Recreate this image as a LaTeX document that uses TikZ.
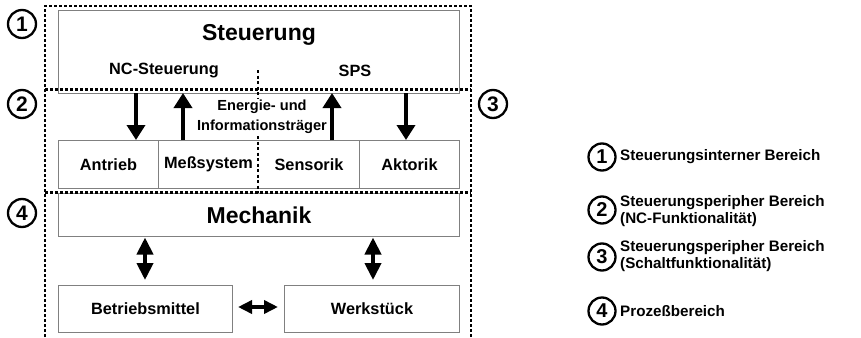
\documentclass[tikz,border=0pt]{standalone}
\usepackage{fontspec}
\setmainfont{Liberation Sans}
\usetikzlibrary{arrows.meta}
\begin{document}
\begin{tikzpicture}[x=1pt,y=-1pt,
  box/.style={draw=black!50, line width=1pt, fill=white},
  region/.style={line width=2.2pt, dash pattern=on 3pt off 2pt},
  sep/.style={line width=2pt, dash pattern=on 3pt off 2.5pt},
  flow/.style={line width=3.6pt, -{Triangle[width=18pt,length=15pt]}},
  both/.style={line width=4pt, {Triangle[width=16pt,length=17pt]}-{Triangle[width=16pt,length=17pt]}},
  bothh/.style={line width=3.6pt, {Triangle[width=13pt,length=14pt]}-{Triangle[width=13pt,length=14pt]}},
  lbl/.style={font=\bfseries\fontsize{16.3}{18}\selectfont, inner sep=0pt},
  big/.style={font=\bfseries\fontsize{23}{26}\selectfont, inner sep=0pt},
  num/.style={circle, draw, line width=2.3pt, minimum size=28pt, inner sep=0pt,
              font=\bfseries\fontsize{21}{21}\selectfont},
  legend/.style={font=\bfseries\fontsize{15.2}{16.5}\selectfont, inner sep=0pt, anchor=west, align=left}]
\useasboundingbox (0,0) rectangle (861,337);

% control block
\node[box, minimum width=401pt, minimum height=83pt, anchor=north west] (ctl) at (58,10) {};
\node[big] (ctlt) at (259,35) {Steuerung};
\node[lbl] (nc) at (164,71) {NC-Steuerung};
\node[lbl] (sps) at (355,71) {SPS};

% peripheral row
\node[box, minimum width=100pt, minimum height=48pt, anchor=north west] (ant) at (58,140) {};
\node[box, minimum width=100pt, minimum height=48pt, anchor=north west] (mes) at (158,140) {};
\node[box, minimum width=101pt, minimum height=48pt, anchor=north west] (sen) at (258,140) {};
\node[box, minimum width=100pt, minimum height=48pt, anchor=north west] (akt) at (359,140) {};
\node[lbl] at (ant.center) {Antrieb};
\node[lbl] at (mes.center) {Meßsystem};
\node[lbl] at (sen.center) {Sensorik};
\node[lbl] at (akt.center) {Aktorik};
% hide the inner border between the two middle cells
\draw[white, line width=1.4pt] ([yshift=-0.7pt]mes.north east) -- ([yshift=0.7pt]mes.south east);

% mechanics
\node[box, minimum width=401pt, minimum height=43pt, anchor=north west] (mech) at (58,193) {};
\node[big] at (mech.center) {Mechanik};
\node[box, minimum width=174pt, minimum height=47pt, anchor=north west] (bm) at (58,285) {};
\node[lbl] at (bm.center) {Betriebsmittel};
\node[box, minimum width=175pt, minimum height=47pt, anchor=north west] (ws) at (284,285) {};
\node[lbl] at (ws.center) {Werkstück};

% region borders
\coordinate (tl) at (45,6);
\coordinate (tr) at (471,6);
\coordinate (bl) at (45,337);
\coordinate (br) at (471,337);
\coordinate (ml) at (45,89.5);
\coordinate (mr) at (471,89.5);
\coordinate (ll) at (45,192.5);
\coordinate (lr) at (471,192.5);
\coordinate (ct) at (258,70);
\coordinate (cb) at (258,192.5);
\draw[region] (bl) -- (tl) -- (tr) -- (br);
\draw[region] (ml) -- (mr);
\draw[region] (ll) -- (lr);
\draw[sep] (ct) -- (cb);
\node[fill=white, align=center, inner sep=1pt, font=\bfseries\fontsize{14.6}{19.5}\selectfont] (carrier) at (262,117) {Energie- und\\Informationsträger};

% signal flow
\draw[flow] (136,93) -- (136,140);
\draw[flow] (183,140) -- (183,93);
\draw[flow] (332,140) -- (332,93);
\draw[flow] (406,93) -- (406,140);
\coordinate (m1) at (145,237.5);
\coordinate (b1) at (145,280);
\coordinate (m2) at (373,237.5);
\coordinate (w2) at (373,280);
\coordinate (bmr) at (238,307);
\coordinate (wsl) at (278,307);
\draw[both] (m1) -- (b1);
\draw[both] (m2) -- (w2);
\draw[bothh] (bmr) -- (wsl);

% region numbers
\node[num] (n1) at (22,24) {1};
\node[num] (n2) at (22,104) {2};
\node[num] (n3) at (493,104) {3};
\node[num] (n4) at (22,213) {4};

% legend
\node[num, minimum size=27pt, font=\bfseries\fontsize{20}{20}\selectfont] (l1) at (602,157) {1};
\node[num, minimum size=27pt, font=\bfseries\fontsize{20}{20}\selectfont] (l2) at (602,210) {2};
\node[num, minimum size=27pt, font=\bfseries\fontsize{20}{20}\selectfont] (l3) at (602,257) {3};
\node[num, minimum size=27pt, font=\bfseries\fontsize{20}{20}\selectfont] (l4) at (602,311) {4};
\node[legend] at (620,157) {Steuerungsinterner Bereich};
\node[legend] at (620,211) {Steuerungsperipher Bereich\\(NC-Funktionalität)};
\node[legend] at (620,256) {Steuerungsperipher Bereich\\(Schaltfunktionalität)};
\node[legend] at (620,311) {Prozeßbereich};
\end{tikzpicture}
\end{document}
